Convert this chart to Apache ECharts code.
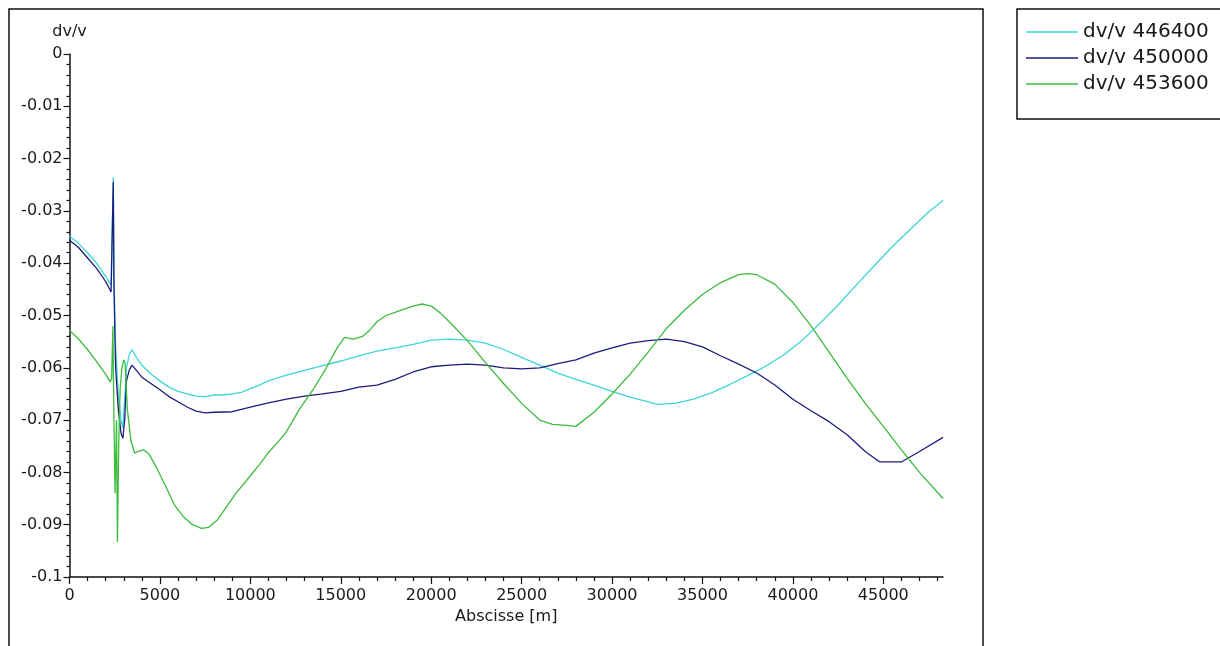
<!DOCTYPE html>
<html>
<head>
<meta charset="utf-8">
<title>dv/v</title>
<script src="https://cdn.jsdelivr.net/npm/echarts@6/dist/echarts.min.js"></script>
<style>
  html, body { margin: 0; padding: 0; background: #fff; }
  #chart { width: 1220px; height: 646px; }
</style>
</head>
<body>
<div id="chart"></div>
<script>
// Abscissa positions (m) and dv/v values for each series
const seriesNames = ['dv/v 446400', 'dv/v 450000', 'dv/v 453600'];

const x446400 = [0, 500, 1000, 1500, 2000, 2300, 2380, 2420, 2460, 2550, 2700, 2850, 2950, 3050, 3150, 3300, 3450, 3700, 4000, 4500, 5000, 5500, 6000, 6500, 7000, 7500, 8000, 8500, 9000, 9500, 10000, 10500, 11000, 12000, 13000, 14000, 15000, 16000, 17000, 18000, 19000, 20000, 21000, 22000, 23000, 24000, 25000, 26000, 27000, 28000, 29000, 30000, 31000, 32000, 32500, 33500, 34500, 35500, 36500, 37500, 38500, 39500, 40500, 41500, 42500, 43500, 44500, 45500, 46500, 47500, 48300];
const y446400 = [-0.0348, -0.0362, -0.0380, -0.0400, -0.0425, -0.0442, -0.0440, -0.0235, -0.0420, -0.0560, -0.0650, -0.0700, -0.0715, -0.0660, -0.0600, -0.0575, -0.0565, -0.0580, -0.0595, -0.0612, -0.0625, -0.0637, -0.0645, -0.0650, -0.0654, -0.0655, -0.0652, -0.0652, -0.0650, -0.0647, -0.0640, -0.0633, -0.0625, -0.0614, -0.0605, -0.0596, -0.0587, -0.0577, -0.0568, -0.0562, -0.0555, -0.0547, -0.0545, -0.0547, -0.0553, -0.0565, -0.0580, -0.0595, -0.0610, -0.0622, -0.0633, -0.0645, -0.0656, -0.0665, -0.0670, -0.0668, -0.0660, -0.0648, -0.0632, -0.0615, -0.0597, -0.0575, -0.0548, -0.0515, -0.0480, -0.0442, -0.0405, -0.0368, -0.0335, -0.0302, -0.0280];

const x450000 = [0, 500, 1000, 1500, 2000, 2300, 2380, 2420, 2460, 2550, 2700, 2850, 2950, 3050, 3150, 3300, 3450, 3700, 4000, 4500, 5000, 5500, 6000, 6500, 7000, 7500, 8000, 9000, 10000, 11000, 12000, 13000, 14000, 15000, 16000, 17000, 18000, 19000, 20000, 21000, 22000, 23000, 24000, 25000, 26000, 27000, 28000, 29000, 30000, 31000, 32000, 33000, 34000, 35000, 36000, 37000, 38000, 39000, 40000, 41000, 42000, 43000, 44000, 44800, 46000, 47000, 48300];
const y450000 = [-0.0356, -0.0370, -0.0390, -0.0410, -0.0435, -0.0455, -0.0452, -0.0245, -0.0450, -0.0600, -0.0680, -0.0725, -0.0735, -0.0700, -0.0625, -0.0605, -0.0595, -0.0605, -0.0618, -0.0630, -0.0642, -0.0655, -0.0665, -0.0675, -0.0683, -0.0686, -0.0685, -0.0684, -0.0675, -0.0667, -0.0660, -0.0654, -0.0650, -0.0645, -0.0637, -0.0633, -0.0622, -0.0608, -0.0598, -0.0595, -0.0593, -0.0595, -0.0600, -0.0602, -0.0600, -0.0592, -0.0585, -0.0572, -0.0562, -0.0553, -0.0548, -0.0545, -0.0550, -0.0560, -0.0577, -0.0593, -0.0610, -0.0633, -0.0660, -0.0682, -0.0703, -0.0728, -0.0760, -0.0780, -0.0780, -0.0760, -0.0733];

const x453600 = [0, 500, 1000, 1500, 2000, 2250, 2330, 2400, 2450, 2520, 2600, 2650, 2720, 2800, 2900, 3000, 3070, 3200, 3400, 3600, 3800, 4100, 4400, 4800, 5300, 5800, 6300, 6800, 7300, 7700, 8200, 8700, 9200, 9800, 10500, 11000, 11500, 12000, 12700, 13500, 14200, 14800, 15200, 15700, 16200, 16600, 17000, 17500, 18000, 18500, 19000, 19500, 20000, 20500, 21000, 22000, 23000, 24000, 25000, 26000, 26700, 27500, 28000, 29000, 30000, 31000, 32000, 33000, 34000, 35000, 36000, 37000, 37500, 38000, 39000, 40000, 41000, 42000, 43000, 44000, 45000, 46000, 47000, 48300];
const y453600 = [-0.0528, -0.0545, -0.0565, -0.0588, -0.0612, -0.0627, -0.0620, -0.0520, -0.0680, -0.0840, -0.0700, -0.0933, -0.0750, -0.0640, -0.0600, -0.0585, -0.0590, -0.0680, -0.0740, -0.0763, -0.0760, -0.0757, -0.0765, -0.0790, -0.0825, -0.0862, -0.0885, -0.0900, -0.0907, -0.0905, -0.0890, -0.0865, -0.0840, -0.0815, -0.0785, -0.0762, -0.0743, -0.0722, -0.0680, -0.0640, -0.0600, -0.0562, -0.0542, -0.0545, -0.0540, -0.0528, -0.0512, -0.0500, -0.0494, -0.0488, -0.0482, -0.0478, -0.0482, -0.0495, -0.0512, -0.0548, -0.0590, -0.0630, -0.0668, -0.0700, -0.0708, -0.0710, -0.0712, -0.0685, -0.0650, -0.0612, -0.0570, -0.0525, -0.0490, -0.0460, -0.0437, -0.0422, -0.0420, -0.0422, -0.0440, -0.0475, -0.0520, -0.0570, -0.0620, -0.0668, -0.0712, -0.0757, -0.0800, -0.0850];

// Axis tick values
const xMajorTicks = [0, 5000, 10000, 15000, 20000, 25000, 30000, 35000, 40000, 45000];
const xMinorTicks = [1000, 2000, 3000, 4000, 6000, 7000, 8000, 9000, 11000, 12000, 13000, 14000, 16000, 17000, 18000, 19000, 21000, 22000, 23000, 24000, 26000, 27000, 28000, 29000, 31000, 32000, 33000, 34000, 36000, 37000, 38000, 39000, 41000, 42000, 43000, 44000, 46000, 47000, 48000];

const FONT = 'DejaVu Sans';
const INK = '#1a1a1a';
const colors = ['#3cd6d6', '#1c1c7e', '#3cbc3c'];

function pairs(xs, ys) {
  return xs.map((x, i) => [x, ys[i]]);
}

const chart = echarts.init(document.getElementById('chart'), null, { renderer: 'canvas' });

chart.setOption({
  animation: false,
  backgroundColor: '#ffffff',
  color: colors,
  textStyle: { fontFamily: FONT, color: INK },
  grid: { left: 69.5, right: 277, top: 54, bottom: 69 },
  legend: {
    orient: 'vertical',
    left: 1017,
    top: 9,
    data: seriesNames,
    icon: 'rect',
    borderColor: '#111',
    borderWidth: 1.5,
    borderRadius: 0,
    padding: [13, 20, 25, 9],
    itemWidth: 52,
    itemHeight: 1.4,
    itemGap: 6,
    textStyle: { fontFamily: FONT, fontSize: 20, color: INK, lineHeight: 20 }
  },
  xAxis: [
    {
      type: 'value',
      min: 0,
      max: 48300,
      interval: 5000,
      position: 'bottom',
      name: 'Abscisse [m]',
      nameLocation: 'middle',
      nameGap: 28,
      nameTextStyle: { fontFamily: FONT, fontSize: 16, color: INK },
      axisLine: { show: true, onZero: false, lineStyle: { color: '#111', width: 1.5 } },
      axisTick: { show: true, customValues: xMajorTicks, length: 7, lineStyle: { color: '#111', width: 1.2 } },
      axisLabel: {
        customValues: xMajorTicks,
        margin: 11,
        fontFamily: FONT,
        fontSize: 16,
        color: INK,
        formatter: v => String(v)
      },
      splitLine: { show: false }
    },
    {
      type: 'value',
      min: 0,
      max: 48300,
      position: 'bottom',
      axisLine: { show: false, onZero: false },
      axisTick: { show: true, customValues: xMinorTicks, length: 4, lineStyle: { color: '#111', width: 1.2 } },
      axisLabel: { show: false },
      splitLine: { show: false }
    }
  ],
  yAxis: {
    type: 'value',
    min: -0.1,
    max: 0,
    interval: 0.01,
    name: 'dv/v',
    nameLocation: 'end',
    nameGap: 14,
    nameTextStyle: { fontFamily: FONT, fontSize: 16, color: INK, align: 'center' },
    axisLine: { show: true, onZero: false, lineStyle: { color: '#111', width: 1.5 } },
    axisTick: { show: true, length: 6, lineStyle: { color: '#111', width: 1.2 } },
    minorTick: { show: true, splitNumber: 5, length: 3, lineStyle: { color: '#111', width: 1.2 } },
    axisLabel: {
      margin: 7,
      fontFamily: FONT,
      fontSize: 16,
      color: INK,
      formatter: v => String(Math.round(v * 100) / 100)
    },
    splitLine: { show: false }
  },
  graphic: [
    {
      type: 'rect',
      silent: true,
      z: -10,
      shape: { x: 9, y: 9, width: 974, height: 700 },
      style: { fill: null, stroke: '#111', lineWidth: 1.5 }
    }
  ],
  series: [
    {
      name: seriesNames[0], type: 'line', xAxisIndex: 0, symbol: 'none',
      lineStyle: { width: 1.3, color: colors[0] }, data: pairs(x446400, y446400)
    },
    {
      name: seriesNames[1], type: 'line', xAxisIndex: 0, symbol: 'none',
      lineStyle: { width: 1.3, color: colors[1] }, data: pairs(x450000, y450000)
    },
    {
      name: seriesNames[2], type: 'line', xAxisIndex: 0, symbol: 'none',
      lineStyle: { width: 1.3, color: colors[2] }, data: pairs(x453600, y453600)
    }
  ]
});
</script>
</body>
</html>
